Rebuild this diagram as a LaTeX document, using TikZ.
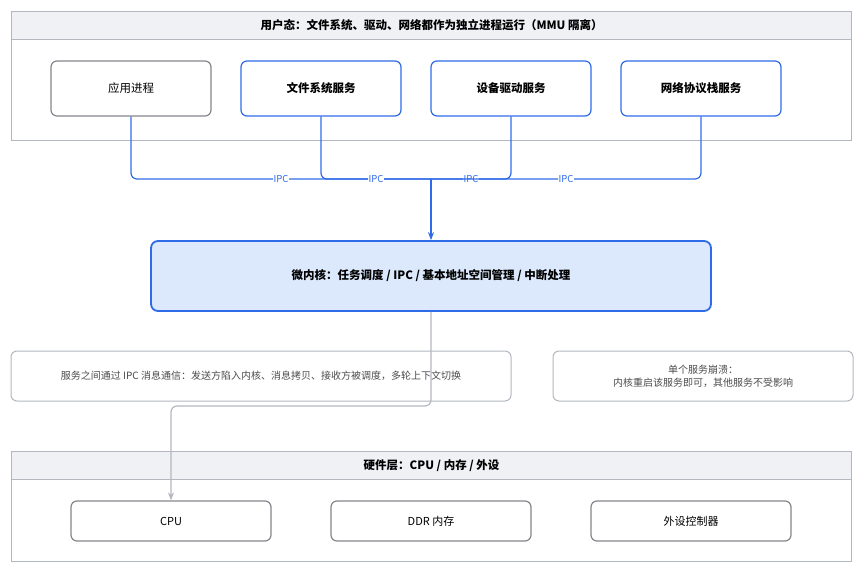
\documentclass[tikz,border=0pt]{standalone}
\usepackage{fontspec}
\setmainfont{Noto Sans CJK SC}
\usetikzlibrary{arrows.meta}
\definecolor{gb}{HTML}{B3B7C0}
\definecolor{gd}{HTML}{85868C}
\definecolor{bl}{HTML}{2F6BE8}
\definecolor{hd}{HTML}{EFF1F5}
\definecolor{kf}{HTML}{DCE9FC}
\begin{document}
\begin{tikzpicture}[x=1pt,y=-1pt,
  box/.style={draw=gd,line width=1.2pt,rounded corners=6pt,fill=white,font=\fontsize{11.5}{13}\selectfont},
  sbox/.style={box,draw=bl},
  hw/.style={box,font=\fontsize{11}{13}\selectfont},
  note/.style={draw=gb,line width=1pt,rounded corners=6pt,fill=white,font=\fontsize{10}{13}\selectfont,text=black!70,align=center},
  ipc/.style={draw=bl,line width=1.2pt,rounded corners=6pt},
  lab/.style={fill=white,inner sep=0.5pt,font=\fontsize{9.5}{10}\selectfont,text=bl}]
\useasboundingbox (0,0) rectangle (865,575);
% user
\node[draw=gb,line width=1.2pt,minimum width=840,minimum height=129,anchor=north west] (user) at (11,11) {};
\node[draw=gb,line width=1.2pt,fill=hd,minimum width=840,minimum height=28,anchor=north west,font=\fontsize{11.5}{13}\selectfont\bfseries] (userh) at (11,11) {用户态：文件系统、驱动、网络都作为独立进程运行（MMU 隔离）};
\node[box,minimum width=160,minimum height=55] (app) at (131,88.5) {应用进程};
\node[sbox,minimum width=160,minimum height=55,font=\fontsize{11.5}{13}\selectfont\bfseries] (fs) at (321,88.5) {文件系统服务};
\node[sbox,minimum width=160,minimum height=55,font=\fontsize{11.5}{13}\selectfont\bfseries] (drv) at (511,88.5) {设备驱动服务};
\node[sbox,minimum width=160,minimum height=55,font=\fontsize{11.5}{13}\selectfont\bfseries] (net) at (701,88.5) {网络协议栈服务};
% kernel
\node[draw=bl,line width=1.8pt,rounded corners=7pt,fill=kf,minimum width=560,minimum height=70,font=\fontsize{11.5}{13}\selectfont\bfseries] (k) at (431,276) {微内核：任务调度 / IPC / 基本地址空间管理 / 中断处理};
\coordinate (j) at (431,179);
\draw[ipc] (app.south) |- (j) node[lab,pos=0.75] {IPC};
\draw[ipc] (fs.south) |- (j) node[lab,pos=0.75] {IPC};
\draw[ipc] (drv.south) |- (j) node[lab,pos=0.75] {IPC};
\draw[ipc] (net.south) |- (j) node[lab,pos=0.75] {IPC};
\draw[bl,line width=1.2pt,-{Stealth[length=8pt,width=6pt]}] (j) -- (k.north);
% notes
\node[note,minimum width=500,minimum height=50] (n1) at (261,376) {服务之间通过 IPC 消息通信：发送方陷入内核、消息拷贝、接收方被调度，多轮上下文切换};
\node[note,minimum width=300,minimum height=50] (n2) at (703,376) {单个服务崩溃：\\内核重启该服务即可，其他服务不受影响};
% hardware
\node[draw=gb,line width=1.2pt,minimum width=840,minimum height=110,anchor=north west] (hwb) at (11,451) {};
\node[draw=gb,line width=1.2pt,fill=hd,minimum width=840,minimum height=28,anchor=north west,font=\fontsize{11.5}{13}\selectfont\bfseries] (hwh) at (11,451) {硬件层：CPU / 内存 / 外设};
\node[hw,minimum width=200,minimum height=40] (cpu) at (171,521) {CPU};
\node[hw,minimum width=200,minimum height=40] (ddr) at (431,521) {DDR 内存};
\node[hw,minimum width=200,minimum height=40] (per) at (691,521) {外设控制器};
\coordinate (t) at (431,406);
\draw[gb,line width=1.2pt,rounded corners=6pt,-{Stealth[length=8pt,width=6pt]}] (k.south) -- (t) -| (cpu.north);
\end{tikzpicture}
\end{document}
